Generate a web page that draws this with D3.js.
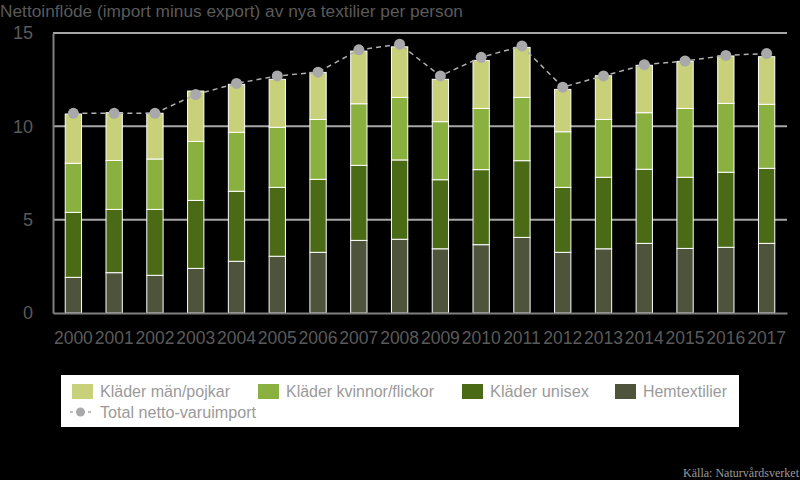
<html>
<head>
<meta charset="utf-8">
<script src="https://d3js.org/d3.v7.min.js"></script>
<style>
  body { margin: 0; background: #000; }
  svg text { font-family: "Liberation Sans", Arial, sans-serif; }
</style>
</head>
<body>
<script>
var years = ["2000","2001","2002","2003","2004","2005","2006","2007","2008",
             "2009","2010","2011","2012","2013","2014","2015","2016","2017"];
var hem    = [1.91,2.16,2.02,2.39,2.77,3.04,3.25,3.89,3.95,3.44,3.66,4.05,3.25,3.44,3.73,3.46,3.52,3.73];
var unisex = [3.48,3.39,3.53,3.64,3.75,3.69,3.91,4.02,4.25,3.70,4.02,4.11,3.48,3.83,3.97,3.81,4.02,4.02];
var kvinnor= [2.63,2.62,2.70,3.16,3.16,3.22,3.21,3.30,3.35,3.11,3.28,3.39,2.98,3.10,3.03,3.69,3.69,3.43];
var man    = [2.64,2.56,2.45,2.70,2.57,2.57,2.52,2.82,2.71,2.27,2.57,2.68,2.27,2.34,2.54,2.52,2.54,2.55];
var total  = [10.7,10.7,10.7,11.7,12.3,12.7,12.9,14.1,14.4,12.7,13.7,14.3,12.1,12.7,13.3,13.5,13.8,13.9];
var yTicks = [0,5,10,15];

var series = [
  {key:"hem", name:"Hemtextilier", color:"#4e533c", values:hem},
  {key:"unisex", name:"Kläder unisex", color:"#4a6a15", values:unisex},
  {key:"kvinnor", name:"Kläder kvinnor/flickor", color:"#8ab040", values:kvinnor},
  {key:"man", name:"Kläder män/pojkar", color:"#c8d07a", values:man}
];

var width = 800, height = 480;
var plotL = 53, plotR = 787, plotT = 33, plotB = 313;

var svg = d3.select("body").append("svg")
  .attr("width", width).attr("height", height);

var x = d3.scaleBand().domain(years).range([plotL, plotR]).paddingInner(0.6).paddingOuter(0.3);
var y = d3.scaleLinear().domain([0, 15]).range([plotB, plotT]);

// title
svg.append("text").attr("x", 0).attr("y", 17)
  .attr("fill", "#5a5a5a").style("font-size", "17.3px")
  .text("Nettoinflöde (import minus export) av nya textilier per person");

// grid
svg.selectAll(".grid").data(yTicks.slice(1)).enter().append("line")
  .attr("x1", plotL).attr("x2", plotR)
  .attr("y1", function(d) { return y(d); }).attr("y2", function(d) { return y(d); })
  .attr("stroke", "#a6a6a6").attr("stroke-width", 2);

// stacked bars
var rows = years.map(function(yr, i) {
  var r = {year: yr};
  series.forEach(function(s) { r[s.key] = s.values[i]; });
  return r;
});
var stack = d3.stack().keys(series.map(function(s) { return s.key; }))(rows);

svg.selectAll(".layer").data(stack).enter().append("g")
  .attr("fill", function(d, i) { return series[i].color; })
  .selectAll("rect").data(function(d) { return d; }).enter().append("rect")
  .attr("x", function(d) { return x(d.data.year); })
  .attr("width", x.bandwidth())
  .attr("y", function(d) { return y(d[1]); })
  .attr("height", function(d) { return y(d[0]) - y(d[1]); })
  .attr("stroke", "#fff").attr("stroke-width", 1);

// axes
var yAxis = svg.append("g").attr("transform", "translate(" + plotL + ",0)")
  .call(d3.axisLeft(y).tickValues(yTicks).tickSize(0).tickPadding(20));
yAxis.select(".domain").attr("stroke", "#808080").attr("stroke-width", 2);
yAxis.selectAll("text").attr("fill", "#5a5a5a").style("font-size", "18px");

var xAxis = svg.append("g").attr("transform", "translate(0," + plotB + ")")
  .call(d3.axisBottom(x).tickSize(0).tickPadding(19));
xAxis.select(".domain").attr("stroke", "#808080").attr("stroke-width", 2);
xAxis.selectAll("text").attr("fill", "#5a5a5a").style("font-size", "17.5px");

// total line
var cx = function(d, i) { return x(years[i]) + x.bandwidth() / 2; };
var line = d3.line().x(cx).y(function(d) { return y(d); });
svg.append("path").datum(total).attr("d", line)
  .attr("fill", "none").attr("stroke", "#b0b0b0").attr("stroke-width", 1.5)
  .attr("stroke-dasharray", "5,4");
svg.selectAll(".dot").data(total).enter().append("circle")
  .attr("cx", cx).attr("cy", function(d) { return y(d); })
  .attr("r", 5.5).attr("fill", "#a9a9ab");

// legend
var lg = svg.append("g");
lg.append("rect").attr("x", 61).attr("y", 375).attr("width", 678).attr("height", 52).attr("fill", "#fff");
var legItems = [
  {s: series[3], x: 72, w: 130}, {s: series[2], x: 258, w: 148},
  {s: series[1], x: 462, w: 99}, {s: series[0], x: 615, w: 84}
];
legItems.forEach(function(it) {
  lg.append("rect").attr("x", it.x).attr("y", 384).attr("width", 21).attr("height", 15).attr("fill", it.s.color);
  lg.append("text").attr("x", it.x + 28).attr("y", 397).attr("fill", "#9a9a9a")
    .attr("textLength", it.w).attr("lengthAdjust", "spacingAndGlyphs")
    .style("font-size", "16px").text(it.s.name);
});
lg.append("line").attr("x1", 70).attr("x2", 91).attr("y1", 412).attr("y2", 412)
  .attr("stroke", "#aaaaaa").attr("stroke-width", 1.5).attr("stroke-dasharray", "3,3");
lg.append("circle").attr("cx", 80.5).attr("cy", 412).attr("r", 4.5).attr("fill", "#a9a9ab");
lg.append("text").attr("x", 100).attr("y", 418).attr("fill", "#9a9a9a")
  .attr("textLength", 156).attr("lengthAdjust", "spacingAndGlyphs")
  .style("font-size", "16px").text("Total netto-varuimport");

// source
svg.append("text").attr("x", 799).attr("y", 477).attr("text-anchor", "end")
  .attr("fill", "#9a9a9a").style("font-size", "12px")
  .attr("textLength", 116).attr("lengthAdjust", "spacingAndGlyphs")
  .style("font-family", "'Liberation Serif', serif").text("Källa: Naturvårdsverket");
</script>
</body>
</html>
